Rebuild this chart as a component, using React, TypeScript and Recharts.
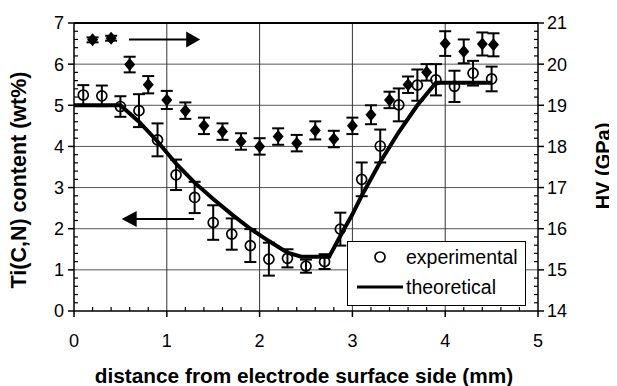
import React from 'react';
import {
  ComposedChart,
  Scatter,
  Line,
  XAxis,
  YAxis,
  ErrorBar,
  ReferenceLine,
  ReferenceDot,
  Label,
} from 'recharts';

// Experimental Ti(C,N) content (left axis, wt%)
const expX = [0.1, 0.3, 0.5, 0.7, 0.9, 1.1, 1.3, 1.5, 1.7, 1.9, 2.1, 2.3, 2.5, 2.7, 2.87, 3.1, 3.3, 3.5, 3.7, 3.9, 4.1, 4.3, 4.5];
const expY = [5.25, 5.23, 4.97, 4.87, 4.16, 3.31, 2.76, 2.15, 1.87, 1.59, 1.26, 1.28, 1.09, 1.2, 1.99, 3.2, 4.01, 5.01, 5.49, 5.62, 5.46, 5.78, 5.64];
const expErr = [0.24, 0.25, 0.25, 0.4, 0.4, 0.37, 0.38, 0.42, 0.38, 0.4, 0.4, 0.22, 0.16, 0.18, 0.4, 0.41, 0.4, 0.4, 0.38, 0.38, 0.38, 0.3, 0.3];

// Hardness HV (right axis, GPa)
const hvX = [0.2, 0.4, 0.6, 0.8, 1.0, 1.2, 1.4, 1.6, 1.8, 2.0, 2.2, 2.4, 2.6, 2.8, 3.0, 3.2, 3.4, 3.6, 3.8, 4.0, 4.2, 4.4, 4.52];
const hvY = [20.59, 20.63, 19.99, 19.5, 19.13, 18.87, 18.5, 18.36, 18.12, 18.0, 18.24, 18.08, 18.39, 18.18, 18.5, 18.77, 19.13, 19.5, 19.8, 20.5, 20.31, 20.49, 20.47];
const hvErr = [0.06, 0.06, 0.19, 0.21, 0.22, 0.2, 0.2, 0.2, 0.2, 0.2, 0.2, 0.2, 0.22, 0.2, 0.2, 0.23, 0.2, 0.2, 0.2, 0.3, 0.29, 0.28, 0.28];

// Theoretical curve (left axis)
const theoX = [0, 0.5, 0.7, 0.9, 1.1, 1.3, 1.5, 1.7, 1.9, 2.1, 2.3, 2.45, 2.75, 2.9, 3.0, 3.1, 3.3, 3.5, 3.7, 3.9, 4.5];
const theoY = [5.0, 5.0, 4.6, 4.12, 3.58, 3.12, 2.72, 2.35, 2.0, 1.7, 1.42, 1.32, 1.32, 1.95, 2.35, 2.8, 3.62, 4.35, 5.0, 5.55, 5.55];

// Tick labels
const xMajor = [0, 1, 2, 3, 4, 5];
const leftMajor = [0, 1, 2, 3, 4, 5, 6, 7];
const rightMajor = [14, 15, 16, 17, 18, 19, 20, 21];
const hGrid = [1, 2, 3, 4, 5, 6];
const vGrid = [1, 2, 3, 4];

const FONT = '"Liberation Sans", Arial, Helvetica, sans-serif';

const withMinor = (major: number[]) => {
  const out: number[] = [];
  for (let i = 0; i < major.length - 1; i++) {
    for (let k = 0; k < 5; k++) {
      out.push(Math.round((major[i] + ((major[i + 1] - major[i]) * k) / 5) * 1000) / 1000);
    }
  }
  out.push(major[major.length - 1]);
  return out;
};

const isMajor = (v: number, majors: number[]) => majors.some((m) => Math.abs(m - v) < 1e-6);

const expData = expX.map((x, i) => ({ x, y: expY[i], err: expErr[i] }));
const hvData = hvX.map((x, i) => ({ x, y: hvY[i], err: hvErr[i] }));
const theoData = theoX.map((x, i) => ({ x, y: theoY[i] }));

const XTick = (props: any) => {
  const { x, y, payload } = props;
  const v = payload.value;
  if (isMajor(v, xMajor)) {
    return (
      <g>
        <line x1={x} y1={y} x2={x} y2={y + 6} stroke="#000" strokeWidth={1.5} />
        <text x={x} y={y + 36} textAnchor="middle" fontSize={18} fontFamily={FONT} fill="#000">
          {v}
        </text>
      </g>
    );
  }
  return <line x1={x} y1={y} x2={x} y2={y - 4} stroke="#000" strokeWidth={1.2} />;
};

const LeftTick = (props: any) => {
  const { x, y, payload } = props;
  const v = payload.value;
  if (isMajor(v, leftMajor)) {
    return (
      <g>
        <line x1={x} y1={y} x2={x - 6} y2={y} stroke="#000" strokeWidth={1.5} />
        <text x={x - 10} y={y} dy="0.36em" textAnchor="end" fontSize={18} fontFamily={FONT} fill="#000">
          {v}
        </text>
      </g>
    );
  }
  return <line x1={x} y1={y} x2={x + 4} y2={y} stroke="#000" strokeWidth={1.2} />;
};

const RightTick = (props: any) => {
  const { x, y, payload } = props;
  const v = payload.value;
  if (isMajor(v, rightMajor)) {
    return (
      <g>
        <line x1={x} y1={y} x2={x + 6} y2={y} stroke="#000" strokeWidth={1.5} />
        <text x={x + 9} y={y} dy="0.36em" textAnchor="start" fontSize={18} fontFamily={FONT} fill="#000">
          {v}
        </text>
      </g>
    );
  }
  return <line x1={x} y1={y} x2={x - 4} y2={y} stroke="#000" strokeWidth={1.2} />;
};

const OpenCircle = (props: any) => {
  const { cx, cy } = props;
  return <circle cx={cx} cy={cy} r={5} fill="none" stroke="#000" strokeWidth={1.7} />;
};

const Diamond = (props: any) => {
  const { cx, cy } = props;
  const w = 5.5;
  const h = 6.5;
  return <polygon points={`${cx},${cy - h} ${cx + w},${cy} ${cx},${cy + h} ${cx - w},${cy}`} fill="#000" />;
};

const RightHead = (props: any) => {
  const { cx, cy } = props;
  return <polygon points={`${cx},${cy} ${cx - 14},${cy - 8} ${cx - 14},${cy + 8}`} fill="#000" />;
};

const LeftHead = (props: any) => {
  const { cx, cy } = props;
  return <polygon points={`${cx},${cy} ${cx + 15},${cy - 8} ${cx + 15},${cy + 8}`} fill="#000" />;
};

export default function App() {
  return (
    <div style={{ position: 'relative', width: 609, height: 378, fontFamily: FONT }}>
      <ComposedChart width={609} height={378} margin={{ top: 15, right: 19, bottom: 35, left: 20 }}>
        <XAxis
          dataKey="x"
          type="number"
          domain={[0, 5]}
          ticks={withMinor(xMajor)}
          interval={0}
          tick={XTick}
          tickLine={false}
          tickSize={0}
          tickMargin={0}
          axisLine={{ stroke: '#000', strokeWidth: 1.5 }}
          height={40}
          allowDataOverflow
        >
          <Label
            content={() => (
              <text x={296} y={375} textAnchor="middle" fontSize={20.8} fontWeight="bold" fontFamily={FONT} fill="#000">
                distance from electrode surface side (mm)
              </text>
            )}
          />
        </XAxis>
        <YAxis
          yAxisId="left"
          type="number"
          domain={[0, 7]}
          ticks={withMinor(leftMajor)}
          interval={0}
          tick={LeftTick}
          tickLine={false}
          tickSize={0}
          tickMargin={0}
          axisLine={{ stroke: '#000', strokeWidth: 1.5 }}
          width={46}
          allowDataOverflow
        >
          <Label
            content={() => (
              <text
                x={18}
                y={172}
                transform="rotate(-90, 18, 172)"
                textAnchor="middle"
                fontSize={21.5}
                fontWeight="bold"
                fontFamily={FONT}
                fill="#000"
              >
                Ti(C,N) content (wt%)
              </text>
            )}
          />
        </YAxis>
        <YAxis
          yAxisId="right"
          orientation="right"
          type="number"
          domain={[14, 21]}
          ticks={withMinor(rightMajor)}
          interval={0}
          tick={RightTick}
          tickLine={false}
          tickSize={0}
          tickMargin={0}
          axisLine={{ stroke: '#000', strokeWidth: 1.5 }}
          width={60}
          allowDataOverflow
        >
          <Label
            content={() => (
              <text
                x={602}
                y={158}
                transform="rotate(-90, 602, 158)"
                textAnchor="middle"
                fontSize={20}
                fontWeight="bold"
                fontFamily={FONT}
                fill="#000"
              >
                HV (GPa)
              </text>
            )}
          />
        </YAxis>

        {hGrid.map((v) => (
          <ReferenceLine key={`h${v}`} yAxisId="left" y={v} stroke="#555" strokeWidth={1} />
        ))}
        {vGrid.map((v) => (
          <ReferenceLine key={`v${v}`} yAxisId="left" x={v} stroke="#333" strokeWidth={1} />
        ))}
        <ReferenceLine yAxisId="left" y={7} stroke="#000" strokeWidth={2} />

        <ReferenceLine
          yAxisId="left"
          segment={[
            { x: 0.592, y: 6.6 },
            { x: 1.22, y: 6.6 },
          ]}
          stroke="#000"
          strokeWidth={2}
        />
        <ReferenceDot yAxisId="left" x={1.36} y={6.6} r={1} shape={RightHead} />
        <ReferenceLine
          yAxisId="left"
          segment={[
            { x: 0.66, y: 2.236 },
            { x: 1.293, y: 2.236 },
          ]}
          stroke="#000"
          strokeWidth={2}
        />
        <ReferenceDot yAxisId="left" x={0.514} y={2.236} r={1} shape={LeftHead} />

        <Line
          yAxisId="left"
          data={theoData}
          dataKey="y"
          type="linear"
          stroke="#000"
          strokeWidth={4}
          dot={false}
          activeDot={false}
          isAnimationActive={false}
        />
        <Scatter yAxisId="right" data={hvData} dataKey="y" shape={Diamond} isAnimationActive={false}>
          <ErrorBar dataKey="err" direction="y" width={6} stroke="#000" strokeWidth={2} />
        </Scatter>
        <Scatter yAxisId="left" data={expData} dataKey="y" shape={OpenCircle} isAnimationActive={false}>
          <ErrorBar dataKey="err" direction="y" width={6} stroke="#000" strokeWidth={2} />
        </Scatter>
      </ComposedChart>

      <div
        style={{
          position: 'absolute',
          left: 339,
          top: 233,
          width: 177,
          height: 63,
          border: '1.5px solid #000',
          background: '#fff',
          fontFamily: FONT,
          fontSize: 19,
          color: '#000',
        }}
      >
        <svg width={177} height={63} style={{ position: 'absolute', left: 0, top: 0 }}>
          <circle cx={32} cy={15} r={5} fill="none" stroke="#000" strokeWidth={1.7} />
          <line x1={9} y1={45} x2={55} y2={45} stroke="#000" strokeWidth={3} />
          <text x={58} y={15} dy="0.36em" fontSize={19.5} fontFamily={FONT} fill="#000">
            experimental
          </text>
          <text x={58} y={45} dy="0.36em" fontSize={19.5} fontFamily={FONT} fill="#000">
            theoretical
          </text>
        </svg>
      </div>
    </div>
  );
}
